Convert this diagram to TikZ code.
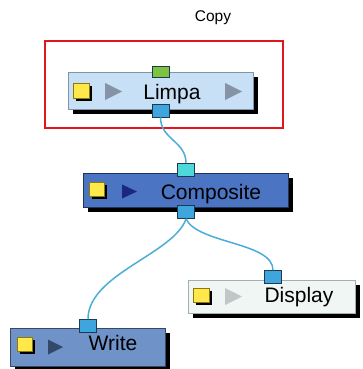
\documentclass[tikz,border=0pt]{standalone}
\usepackage{fontspec}
\setmainfont{Liberation Sans}
\usetikzlibrary{shadows,shapes.misc}
\definecolor{limpafill}{HTML}{C8E0F6}
\definecolor{limpaline}{HTML}{8494A6}
\definecolor{compfill}{HTML}{4B74C2}
\definecolor{compline}{HTML}{22335C}
\definecolor{writefill}{HTML}{6F92C8}
\definecolor{writeline}{HTML}{34486A}
\definecolor{dispfill}{HTML}{F0F6F4}
\definecolor{displine}{HTML}{A6AEAE}
\definecolor{portblue}{HTML}{3EA6DC}
\definecolor{portcyan}{HTML}{4FD8DA}
\definecolor{portgreen}{HTML}{7CC340}
\definecolor{portline}{HTML}{1E3A52}
\definecolor{yel}{HTML}{FFE94A}
\definecolor{yelline}{HTML}{8A7A10}
\definecolor{wire}{HTML}{4AAED8}
\definecolor{redbox}{HTML}{E3141B}
\begin{document}
\begin{tikzpicture}[x=1pt,y=-1pt,
  boxshadow/.style={drop shadow={shadow xshift=5pt,shadow yshift=-5pt,fill=black,opacity=1}},
  nodebox/.style={rectangle,line width=1pt,inner sep=0pt,boxshadow},
  port/.style={rectangle,draw=portline,line width=0.8pt,minimum width=17pt,minimum height=13pt,inner sep=0pt},
  yelsq/.style={rectangle,fill=yel,draw=yelline,line width=0.8pt,inner sep=0pt,minimum width=15pt,minimum height=14pt,
     drop shadow={shadow xshift=2.5pt,shadow yshift=-2.5pt,fill=black,opacity=1}},
  label/.style={font=\fontsize{21}{24}\selectfont,anchor=base,inner sep=0pt},
  wirestyle/.style={draw=wire,line width=1.5pt}]
\useasboundingbox (0,0) rectangle (362,369);
\fill[white] (0,0) rectangle (362,369);

% Copy label and red frame
\node[font=\fontsize{15.5}{18}\selectfont,anchor=base,inner sep=0pt] (copy) at (213,22) {Copy};
\node[draw=redbox,line width=2.5pt,minimum width=238pt,minimum height=87pt,inner sep=0pt] (frame) at (164,84.5) {};

% Limpa
\node[nodebox,draw=limpaline,fill=limpafill,minimum width=185pt,minimum height=37pt] (limpa) at (160.5,90.5) {};
\node[yelsq,minimum width=16pt,minimum height=15pt] (limpay) at (81.5,90.5) {};
\fill[color=limpaline] (105,83) -- (122,91.5) -- (105,100) -- cycle;
\fill[color=limpaline] (225,83) -- (242,91.5) -- (225,100) -- cycle;
\node[label] (limpat) at (172,99) {Limpa};
\node[port,fill=portgreen,minimum height=11pt] (limpain) at (160.5,71.5) {};
\node[port,fill=portblue] (limpaout) at (160.5,110.5) {};

% Composite
\node[nodebox,draw=compline,fill=compfill,minimum width=205pt,minimum height=34pt] (comp) at (185.5,190) {};
\node[yelsq] (compy) at (97,189.5) {};
\fill[color=compline!80!blue] (122,184.5) -- (137,191.5) -- (122,198.5) -- cycle;
\node[label] (compt) at (211,199) {Composite};
\node[port,fill=portcyan] (compin) at (186,170) {};
\node[port,fill=portblue] (compout) at (186,212) {};

% Display
\node[chamfered rectangle,chamfered rectangle corners=north east,chamfered rectangle xsep=6pt,chamfered rectangle ysep=6pt,
      nodebox,draw=displine,fill=dispfill,minimum width=167pt,minimum height=33pt] (disp) at (271.5,296.5) {};
\node[yelsq,minimum width=16pt] (dispy) at (201,295) {};
\fill[color=displine!70] (225,288) -- (242,296.5) -- (225,305) -- cycle;
\node[label] (dispt) at (299,302) {Display};
\node[port,fill=portblue] (dispin) at (273,277) {};

% Write
\node[nodebox,draw=writeline,fill=writefill,minimum width=155pt,minimum height=38pt] (write) at (87.5,347) {};
\node[yelsq] (writey) at (24.5,344) {};
\fill[color=writeline] (48,339.5) -- (63,347) -- (48,354.5) -- cycle;
\node[label] (writet) at (113,350) {Write};
\node[port,fill=portblue] (writein) at (88,326) {};

% Wires
\draw[wirestyle] (limpaout.south) .. controls +(0,22) and +(0,-22) .. (compin.north);
\draw[wirestyle] (compout.south) .. controls +(-12,35) and +(0,-45) .. (writein.north);
\draw[wirestyle] (compout.south) .. controls +(12,25) and +(0,-28) .. (dispin.north);
\end{tikzpicture}
\end{document}
